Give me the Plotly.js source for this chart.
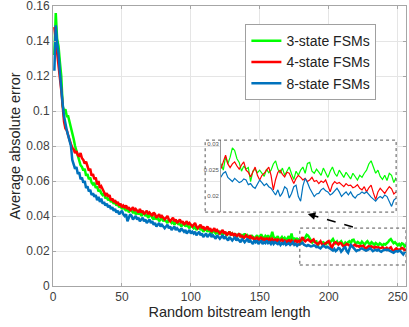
<!DOCTYPE html>
<html>
<head>
<meta charset="utf-8">
<script src="https://cdn.plot.ly/plotly-3.0.1.min.js"></script>
<style>html,body{margin:0;padding:0;background:#fff;}#chart{width:409px;height:327px;}</style>
</head>
<body>
<div id="chart"></div>
<script>
const seriesNames = ['3-state FSMs', '4-state FSMs', '8-state FSMs'];
const seriesColors = ['#00ff00', '#ff0000', '#0072bd'];

const green = [
0.132,0.156,0.141,0.137,0.128,0.120,0.103,0.100,0.101,0.097,
0.097,0.094,0.091,0.088,0.084,0.080,0.077,0.074,0.072,0.069,
0.068,0.066,0.067,0.063,0.064,0.061,0.062,0.059,0.058,0.059,
0.056,0.057,0.054,0.055,0.053,0.052,0.053,0.050,0.051,0.049,
0.050,0.048,0.049,0.047,0.048,0.046,0.047,0.045,0.046,0.044,
0.045,0.044,0.043,0.045,0.042,0.044,0.043,0.042,0.043,0.041,
0.042,0.041,0.043,0.040,0.041,0.042,0.040,0.041,0.039,0.040,
0.041,0.039,0.038,0.040,0.038,0.039,0.037,0.038,0.039,0.037,
0.038,0.037,0.036,0.038,0.037,0.036,0.037,0.035,0.036,0.037,
0.035,0.036,0.034,0.035,0.036,0.034,0.035,0.034,0.033,0.035,
0.034,0.033,0.034,0.032,0.033,0.034,0.032,0.033,0.031,0.032,
0.033,0.031,0.032,0.031,0.030,0.032,0.031,0.030,0.031,0.030,
0.031,0.030,0.029,0.031,0.030,0.029,0.030,0.031,0.029,0.030,
0.029,0.030,0.028,0.029,0.030,0.028,0.029,0.028,0.030,0.028,
0.029,0.028,0.027,0.029,0.028,0.027,0.028,0.029,0.027,0.028,
0.0295,0.028,0.027,0.0285,0.0275,0.029,0.027,0.028,0.031,0.028,
0.0275,0.027,0.0285,0.026,0.027,0.028,0.0265,0.0275,0.026,0.027,
0.0285,0.0265,0.030,0.026,0.0275,0.026,0.027,0.0265,
0.0262,0.0250,0.0276,0.0262,0.0275,0.0293,0.0288,0.0272,0.0265,0.0248,
0.0258,0.0252,0.0255,0.0228,0.0248,0.0252,0.0245,0.0250,0.0243,0.0238,
0.0252,0.0245,0.0250,0.0262,0.0268,0.0252,0.0244,0.0254,0.0240,0.0248,
0.0256,0.0243,0.0232,0.0248,0.0240,0.0250,0.0256,0.0244,0.0263,0.0265,
0.0248,0.0244,0.0252,0.0246,0.0240,0.0254,0.0246,0.0236,0.0248,0.0256,
0.0244,0.0238,0.0250,0.0244,0.0236,0.0246,0.0240,0.0233,0.0244,0.0237,
0.0231,0.0240,0.0236,0.0244,0.0250,0.0262,0.0268,0.0256,0.0244,0.0250,
0.0238,0.0232,0.0240,0.0230,0.0244,0.0240,0.0226,0.0236
];

const red = [
0.148,0.140,0.131,0.125,0.119,0.112,0.100,0.094,0.090,0.089,
0.086,0.083,0.081,0.079,0.078,0.076,0.077,0.075,0.074,0.076,
0.073,0.072,0.070,0.071,0.068,0.066,0.067,0.063,0.064,0.061,
0.062,0.058,0.060,0.056,0.057,0.055,0.054,0.052,0.053,0.051,
0.052,0.049,0.050,0.048,0.049,0.047,0.048,0.046,0.047,0.045,
0.046,0.045,0.046,0.044,0.045,0.043,0.044,0.045,0.043,0.044,
0.043,0.042,0.044,0.042,0.043,0.041,0.042,0.043,0.041,0.042,
0.041,0.040,0.042,0.041,0.039,0.040,0.041,0.039,0.040,0.039,
0.038,0.039,0.040,0.038,0.037,0.038,0.039,0.037,0.038,0.036,
0.037,0.038,0.036,0.037,0.035,0.036,0.037,0.035,0.036,0.035,
0.034,0.035,0.036,0.034,0.033,0.034,0.035,0.033,0.034,0.032,
0.033,0.034,0.032,0.033,0.031,0.032,0.033,0.031,0.032,0.031,
0.030,0.031,0.032,0.030,0.031,0.029,0.030,0.031,0.029,0.030,
0.029,0.030,0.028,0.029,0.030,0.028,0.029,0.027,0.028,0.029,
0.028,0.027,0.029,0.027,0.028,0.026,0.027,0.028,0.026,0.027,
0.028,0.026,0.027,0.026,0.0275,0.026,0.027,0.0255,0.027,0.026,
0.0265,0.025,0.027,0.0255,0.026,0.0265,0.025,0.026,0.0255,0.025,
0.0265,0.025,0.026,0.0245,0.0255,0.026,0.025,0.0258,
0.0253,0.0265,0.0279,0.0262,0.0255,0.0262,0.0266,0.0258,0.0252,0.0260,
0.0266,0.0250,0.0246,0.0237,0.0248,0.0256,0.0240,0.0231,0.0240,0.0244,
0.0250,0.0256,0.0240,0.0212,0.0232,0.0246,0.0250,0.0242,0.0237,0.0246,
0.0244,0.0232,0.0224,0.0234,0.0240,0.0236,0.0231,0.0234,0.0228,0.0231,
0.0236,0.0228,0.0230,0.0224,0.0229,0.0226,0.0231,0.0220,0.0208,0.0222,
0.0228,0.0224,0.0226,0.0222,0.0218,0.0224,0.0220,0.0221,0.0216,0.0218,
0.0222,0.0215,0.0212,0.0218,0.0208,0.0216,0.0221,0.0206,0.0193,0.0208,
0.0215,0.0210,0.0205,0.0212,0.0218,0.0214,0.0204,0.0208
];

const blue = [
0.123,0.149,0.139,0.133,0.122,0.110,0.104,0.097,0.092,0.089,
0.086,0.083,0.080,0.072,0.069,0.067,0.068,0.064,0.065,0.061,
0.062,0.059,0.060,0.056,0.057,0.054,0.055,0.052,0.053,0.051,
0.052,0.049,0.051,0.048,0.050,0.047,0.048,0.046,0.047,0.045,
0.046,0.044,0.045,0.043,0.044,0.042,0.043,0.041,0.042,0.043,
0.041,0.040,0.041,0.037,0.039,0.041,0.040,0.038,0.039,0.040,
0.038,0.039,0.037,0.038,0.039,0.037,0.038,0.036,0.037,0.038,
0.036,0.037,0.035,0.036,0.034,0.035,0.036,0.034,0.035,0.034,
0.033,0.034,0.035,0.033,0.034,0.032,0.033,0.034,0.032,0.033,
0.032,0.031,0.033,0.032,0.031,0.032,0.030,0.031,0.032,0.030,
0.031,0.030,0.031,0.029,0.030,0.031,0.029,0.030,0.028,0.029,
0.030,0.028,0.029,0.030,0.028,0.029,0.028,0.027,0.029,0.028,
0.027,0.028,0.029,0.027,0.028,0.027,0.026,0.028,0.027,0.026,
0.027,0.028,0.026,0.027,0.026,0.025,0.027,0.026,0.025,0.026,
0.027,0.025,0.026,0.025,0.024,0.026,0.025,0.026,0.024,0.025,
0.026,0.024,0.025,0.0245,0.026,0.0245,0.025,0.024,0.0255,0.024,
0.025,0.0245,0.024,0.025,0.0235,0.0245,0.024,0.025,0.0235,0.024,
0.0245,0.0235,0.024,0.025,0.0235,0.024,0.023,0.0238,
0.0237,0.0244,0.0247,0.0236,0.0231,0.0228,0.0234,0.0230,0.0226,0.0228,
0.0233,0.0231,0.0222,0.0224,0.0218,0.0215,0.0224,0.0231,0.0226,0.0220,
0.0224,0.0218,0.0215,0.0208,0.0202,0.0212,0.0199,0.0206,0.0218,0.0214,
0.0196,0.0205,0.0218,0.0221,0.0199,0.0190,0.0219,0.0234,0.0226,0.0215,
0.0206,0.0199,0.0204,0.0205,0.0212,0.0215,0.0210,0.0208,0.0202,0.0205,
0.0210,0.0215,0.0208,0.0199,0.0204,0.0208,0.0202,0.0208,0.0200,0.0196,
0.0202,0.0204,0.0208,0.0205,0.0208,0.0202,0.0198,0.0194,0.0190,0.0196,
0.0199,0.0196,0.0202,0.0199,0.0188,0.0180,0.0192,0.0196
];

const xTickVals = [0, 50, 100, 150, 200, 250];
const xTickText = ['0', '50', '100', '150', '200', '250'];
const yTickVals = [0, 0.02, 0.04, 0.06, 0.08, 0.1, 0.12, 0.14, 0.16];
const yTickText = ['0', '0.02', '0.04', '0.06', '0.08', '0.1', '0.12', '0.14', '0.16'];
const insetYTickVals = [0.02, 0.025, 0.03];
const insetYTickText = ['0.02', '0.025', '0.03'];

const allSeries = [green, red, blue];
const xs = green.map((_, i) => i + 1);

const traces = [];
allSeries.forEach((s, k) => {
  traces.push({x: xs, y: s, type: 'scatter', mode: 'lines', name: seriesNames[k],
    line: {color: seriesColors[k], width: 2.5}, xaxis: 'x', yaxis: 'y'});
});
allSeries.forEach((s, k) => {
  traces.push({x: xs, y: s, type: 'scatter', mode: 'lines', showlegend: false,
    line: {color: seriesColors[k], width: 1.2}, xaxis: 'x2', yaxis: 'y2'});
});

const axisGray = '#a6a6a6';
const layout = {
  width: 409, height: 327,
  margin: {l: 53, r: 3, t: 6, b: 41},
  paper_bgcolor: '#ffffff', plot_bgcolor: '#ffffff',
  font: {family: 'Liberation Sans, Arial, sans-serif', color: '#262626'},
  showlegend: true,
  xaxis: {
    range: [0, 256], tickvals: xTickVals, ticktext: xTickText,
    showgrid: true, gridcolor: '#e5e5e5', gridwidth: 1, zeroline: false,
    showline: true, linecolor: axisGray, linewidth: 1, mirror: 'ticks',
    ticks: 'inside', ticklen: 3, tickcolor: axisGray, ticklabeloverflow: 'allow',
    tickfont: {size: 12, color: '#404040'},
    title: {text: 'Random bitstream length', font: {size: 14.5, color: '#262626'}, standoff: 3}
  },
  yaxis: {
    range: [0, 0.16], tickvals: yTickVals, ticktext: yTickText,
    showgrid: true, gridcolor: '#e5e5e5', gridwidth: 1, zeroline: false,
    showline: true, linecolor: axisGray, linewidth: 1, mirror: 'ticks',
    ticks: 'inside', ticklen: 3, tickcolor: axisGray, ticklabeloverflow: 'allow',
    tickfont: {size: 12, color: '#404040'},
    title: {text: 'Average absolute error', font: {size: 14.5, color: '#262626'}, standoff: 2}
  },
  xaxis2: {
    domain: [0.476, 0.972], anchor: 'y2', range: [179, 256],
    showticklabels: false, showgrid: false, zeroline: false, showline: false, ticks: ''
  },
  yaxis2: {
    domain: [0.264, 0.521], anchor: 'x2', range: [0.0169, 0.0308],
    tickvals: insetYTickVals, ticktext: insetYTickText, ticklabeloverflow: 'allow',
    tickfont: {size: 6, color: '#555555'},
    showline: true, linecolor: '#999999', linewidth: 1,
    showgrid: false, zeroline: false, ticks: ''
  },
  legend: {
    x: 0.545, y: 0.935, xanchor: 'left', yanchor: 'top',
    bgcolor: '#ffffff', bordercolor: '#a0a0a0', borderwidth: 1,
    font: {size: 14, color: '#222222'}, itemwidth: 30, tracegroupgap: 0
  },
  shapes: [
    {type: 'rect', xref: 'x', yref: 'y', x0: 179, x1: 256, y0: 0.012, y1: 0.0331,
      line: {color: '#555555', width: 1, dash: 'dot'}},
    {type: 'rect', xref: 'paper', yref: 'paper', x0: 0.431, x1: 0.972, y0: 0.264, y1: 0.521,
      line: {color: '#555555', width: 1, dash: 'dot'}},
    {type: 'line', xref: 'x', yref: 'y', x0: 217.5, y0: 0.0337, x1: 188, y1: 0.0404,
      line: {color: '#000000', width: 1.5, dash: 'dash'}}
  ],
  annotations: [
    {x: 184.8, y: 0.0411, xref: 'x', yref: 'y', ax: 189, ay: 0.0402, axref: 'x', ayref: 'y',
      text: '', showarrow: true, arrowhead: 2, arrowsize: 1, arrowwidth: 1.5, arrowcolor: '#000000'}
  ]
};

Plotly.newPlot('chart', traces, layout, {staticPlot: true, displayModeBar: false});
</script>
</body>
</html>
